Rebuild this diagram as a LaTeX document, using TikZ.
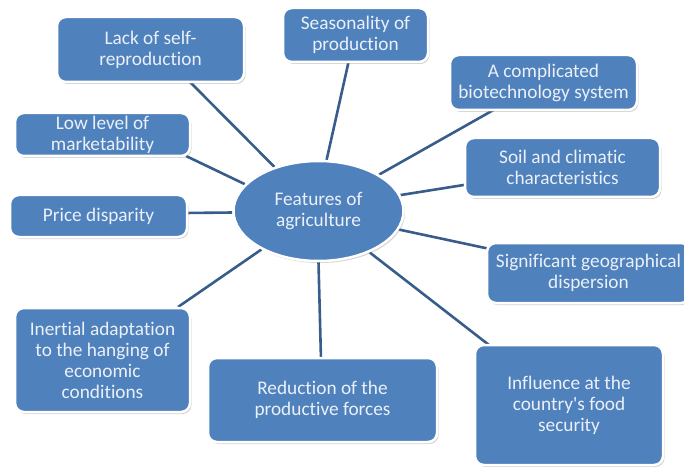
\documentclass[tikz,border=0pt]{standalone}
\usepackage{fontspec}
\setmainfont{Carlito}[Ligatures={TeXOff,NoCommon}]
\usetikzlibrary{shadows,shapes.geometric,backgrounds}
\definecolor{boxblue}{RGB}{79,129,189}
\definecolor{linkblue}{RGB}{56,93,138}
\definecolor{txt}{RGB}{235,240,248}
\begin{document}
\begin{tikzpicture}[x=1pt,y=-1pt,
  fbox/.style={draw=white,line width=2.5pt,fill=boxblue,rounded corners=9pt,
    text=txt,align=center,font=\fontsize{19.3}{21}\selectfont,inner sep=1pt,
    drop shadow={shadow xshift=1.5pt,shadow yshift=-2pt,opacity=0.35}},
  link/.style={draw=linkblue,line width=2.6pt}]
\useasboundingbox (0,0) rectangle (684,470);
\newcommand{\boxat}[6]{\node[fbox,minimum width=#4-#2,minimum height=#5-#3] (#1) at ({(#2+#4)/2},{(#3+#5)/2}) {#6};}
\boxat{lack}{57}{17}{244}{82}{Lack of self-\\reproduction}
\boxat{seas}{283}{8}{428}{62}{Seasonality of\\production}
\boxat{bio}{450}{55}{637}{110}{A complicated\\biotechnology system}
\boxat{low}{15}{113}{190}{156}{Low level of\\marketability}
\boxat{soil}{465}{138}{660}{197}{Soil and climatic\\characteristics}
\boxat{price}{10}{195}{187}{237}{Price disparity}
\boxat{geo}{487}{243}{690}{303}{Significant geographical\\dispersion}
\boxat{inert}{15}{308}{190}{412}{Inertial adaptation\\to the hanging of\\economic\\conditions}
\boxat{red}{208}{358}{437}{442}{Reduction of the\\productive forces}
\boxat{infl}{475}{345}{663}{465}{Influence at the\\country's food\\security}
\node[ellipse,fbox,minimum width=170,minimum height=100] (feat) at (318.5,211) {Features of\\agriculture};
\coordinate (lackE) at (188,80);
\coordinate (lowE) at (186,156);
\coordinate (seasE) at (349,60);
\coordinate (bioE) at (497,108);
\coordinate (soilE) at (470,184);
\coordinate (priceE) at (185,213);
\coordinate (geoE) at (490,249);
\coordinate (inertE) at (178,307);
\coordinate (redE) at (321,360);
\coordinate (inflE) at (489,345);
\begin{scope}[on background layer]
\draw[link] (lackE) -- (feat.135);
\draw[link] (lowE) -- (feat.160);
\draw[link] (seasE) -- (feat.81);
\draw[link] (bioE) -- (feat.31);
\draw[link] (soilE) -- (feat.11);
\draw[link] (priceE) -- (feat.181);
\draw[link] (geoE) -- (feat.-13);
\draw[link] (inertE) -- (feat.214);
\draw[link] (redE) -- (feat.270);
\draw[link] (inflE) -- (feat.-39);
\end{scope}
\end{tikzpicture}
\end{document}
